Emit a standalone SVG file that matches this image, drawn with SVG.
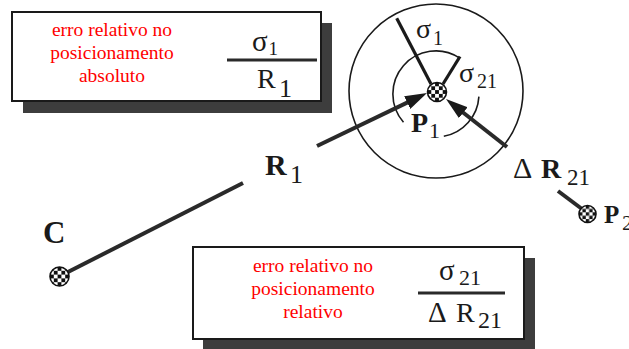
<svg xmlns="http://www.w3.org/2000/svg" width="629" height="349" viewBox="0 0 629 349">
<style>
.box{fill:#fff;stroke:#1a1a1a;stroke-width:2}
.shadow{fill:#3d3d3d}
.red{font-family:"Liberation Serif","Times New Roman",serif;font-size:19.5px;fill:#ff0000;text-anchor:middle}
.t{font-family:"Liberation Serif","Times New Roman",serif;fill:#1a1a1a}
.b{font-weight:bold}
.frac{stroke:#2a2a2a;stroke-width:3}
.conn{stroke:#2a2a2a;stroke-width:4;fill:none}
.rad{stroke:#1a1a1a;stroke-width:3.2;fill:none}
.circ{stroke:#1a1a1a;stroke-width:1.6;fill:none}
.dot{fill:url(#chk);stroke:#111;stroke-width:1.6}
</style>
<defs>
<pattern id="chk" patternUnits="objectBoundingBox" patternContentUnits="objectBoundingBox" width="0.4" height="0.4">
<rect width="0.4" height="0.4" fill="#fff"/>
<rect width="0.2" height="0.2" fill="#111"/>
<rect x="0.2" y="0.2" width="0.2" height="0.2" fill="#111"/>
</pattern>
<marker id="ah" markerUnits="userSpaceOnUse" markerWidth="22" markerHeight="14" refX="8" refY="7" orient="auto">
<path d="M0,0 L22,7 L0,14 Z" fill="#1a1a1a"/>
</marker>
</defs>
<rect width="629" height="349" fill="#fff"/>

<g id="box-absoluto">
<rect class="shadow" x="23" y="23" width="309" height="90"/>
<rect class="box" x="12" y="12" width="309" height="89"/>
<text class="red" x="112" y="36">erro relativo no</text>
<text class="red" x="112" y="59">posicionamento</text>
<text class="red" x="112" y="82">absoluto</text>
<text class="t" font-size="29" x="252" y="51">σ</text>
<text class="t" font-size="19" x="268.5" y="55">1</text>
<line class="frac" x1="227" y1="60" x2="317" y2="60"/>
<text class="t" font-size="28" x="257" y="88">R</text>
<text class="t" font-size="26" x="279" y="96.5">1</text>
</g>

<g id="box-relativo">
<rect class="shadow" x="203" y="258" width="332" height="93"/>
<rect class="box" x="193" y="247" width="331" height="92"/>
<text class="red" x="313" y="271.5">erro relativo no</text>
<text class="red" x="313" y="294.5">posicionamento</text>
<text class="red" x="313" y="317.5">relativo</text>
<text class="t" font-size="29" x="439" y="280">σ</text>
<text class="t" font-size="22" x="459" y="285">21</text>
<line class="frac" x1="418" y1="293" x2="505" y2="293"/>
<text class="t" font-size="29" x="428" y="321.5">Δ</text>
<text class="t" font-size="28" x="456" y="321.5">R</text>
<text class="t" font-size="24" x="478" y="328">21</text>
</g>

<g id="circles">
<circle class="circ" cx="436" cy="91" r="87"/>
<path class="circ" d="M459.4,57.9 A43,43 0 0 0 403.5,122.2"/>
<path class="circ" d="M443.8,136.3 A43,43 0 0 0 478.9,96.6"/>
<line class="rad" x1="396.7" y1="18.3" x2="431" y2="84"/>
<line class="rad" x1="460" y1="56.5" x2="443" y2="84"/>
<text class="t" font-size="28" x="416" y="38.3">σ</text>
<text class="t" font-size="20" x="433" y="45">1</text>
<text class="t" font-size="28" x="459" y="81.7">σ</text>
<text class="t" font-size="20" x="477" y="88">21</text>
</g>

<g id="connectors">
<line class="conn" x1="66" y1="273" x2="243" y2="183"/>
<line class="conn" x1="317" y1="146" x2="414.4" y2="99.1" marker-end="url(#ah)"/>
<line class="conn" x1="507" y1="147" x2="457" y2="107.7" marker-end="url(#ah)"/>
<line class="conn" x1="558" y1="191" x2="582" y2="209"/>
</g>

<g id="node-C">
<circle class="dot" cx="59.5" cy="276.5" r="9.5"/>
<text class="t b" font-size="31" x="43" y="243.3">C</text>
</g>

<g id="node-P1">
<circle class="dot" cx="437" cy="92" r="9.5"/>
<text class="t b" font-size="28" x="411" y="131.7">P</text>
<text class="t" font-size="22" x="429" y="138">1</text>
</g>

<g id="node-P2">
<circle class="dot" cx="587.5" cy="214" r="8.5"/>
<text class="t b" font-size="25" x="604" y="222.7">P</text>
<text class="t" font-size="22" x="622" y="230">2</text>
</g>

<g id="label-R1">
<text class="t b" font-size="30" x="265" y="175">R</text>
<text class="t" font-size="26" x="290" y="183.3">1</text>
</g>

<g id="label-dR21">
<text class="t" font-size="30" x="513" y="178.3">Δ</text>
<text class="t b" font-size="28" x="541" y="178.3">R</text>
<text class="t" font-size="23" x="567" y="185">21</text>
</g>
</svg>
